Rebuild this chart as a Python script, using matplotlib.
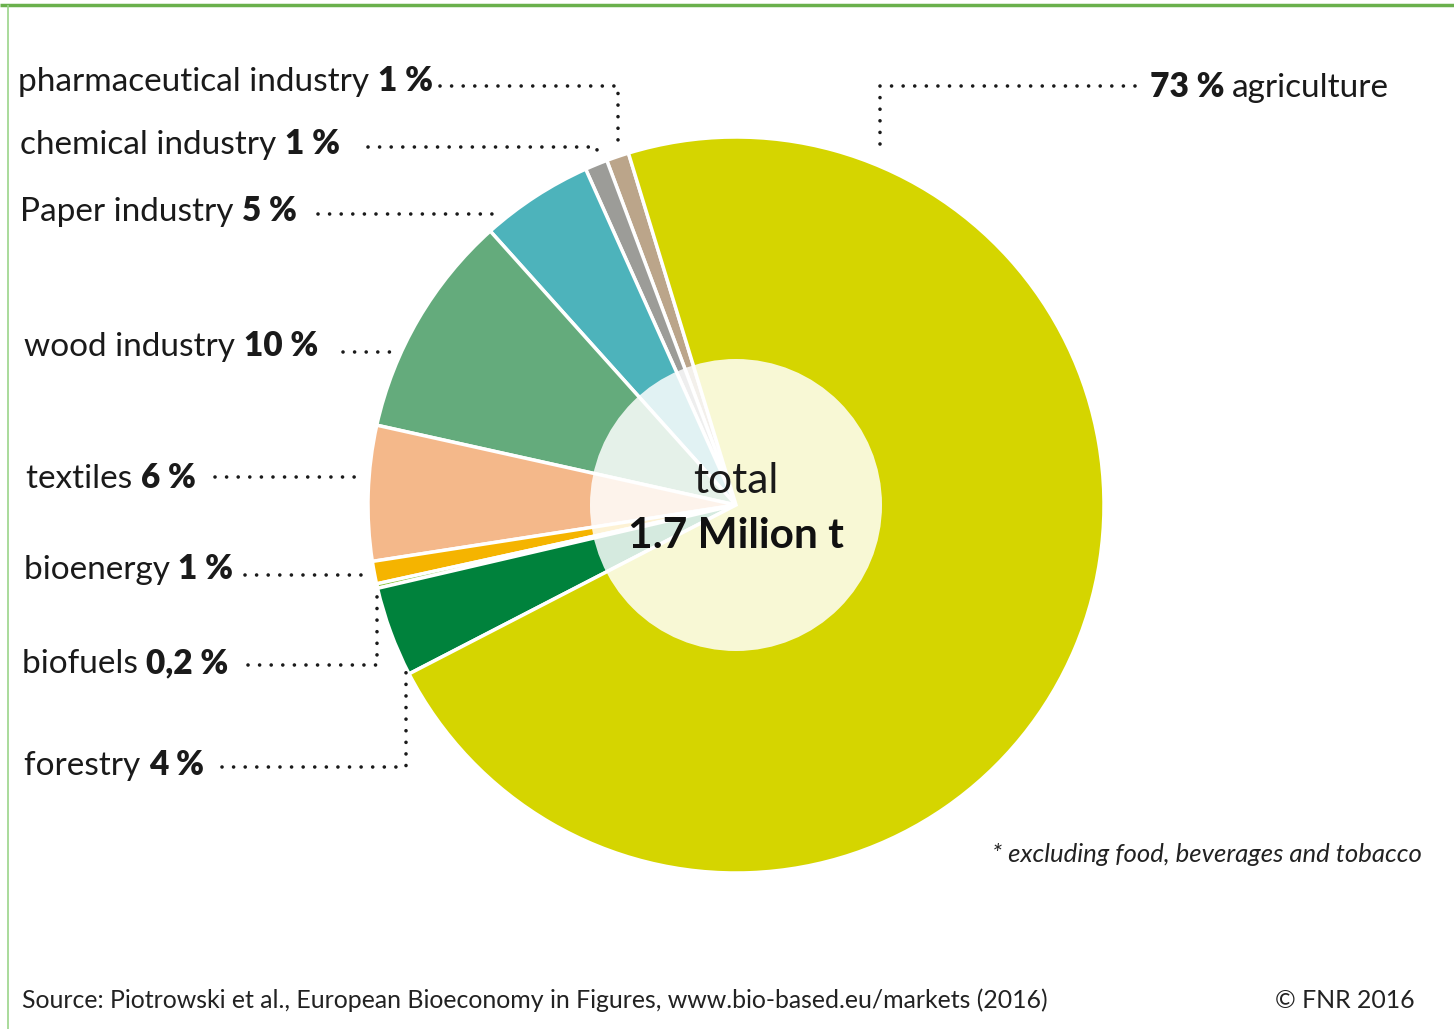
import matplotlib
matplotlib.use("Agg")
import matplotlib.pyplot as plt
from matplotlib.patches import Circle

plt.rcParams['font.family'] = ['Lato', 'DejaVu Sans']

# shares of biomass use (%), drawn counter-clockwise from the top
sectors = ['pharmaceutical industry', 'chemical industry', 'Paper industry',
           'wood industry', 'textiles', 'bioenergy', 'biofuels', 'forestry',
           'agriculture']
shares = [1, 1, 5, 10, 6, 1, 0.2, 4, 73]
share_labels = ['1 %', '1 %', '5 %', '10 %', '6 %', '1 %', '0,2 %', '4 %', '73 %']
colors = ['#bba58a', '#9c9c98', '#4db3bb', '#64ab7c', '#f4b88a',
          '#f5b400', '#8cc63e', '#00823c', '#d5d500']

W, H = 1454, 1029
fig = plt.figure(figsize=(W / 100, H / 100), dpi=100)
ax = fig.add_axes([0, 0, 1, 1])

cx, cy, r = 736, 505, 368
# y axis runs downward, so clockwise in data = counter-clockwise on screen
ax.pie(shares, colors=colors, startangle=-107, counterclock=False,
       radius=r, center=(cx, cy),
       wedgeprops=dict(edgecolor='white', linewidth=2.5))
ax.add_patch(Circle((cx, cy), 146, facecolor='white', alpha=0.84,
                    edgecolor='none', zorder=5))
ax.set_xlim(0, W)
ax.set_ylim(H, 0)
ax.set_aspect('equal')
ax.axis('off')

ax.text(cx, 481, 'total', fontsize=30.5, ha='center', va='center',
        color='#1a1a1a', zorder=6)
ax.text(cx, 536, '1.7 Milion t', fontsize=30.5, fontweight='bold',
        ha='center', va='center', color='#111111', zorder=6)

# left-hand labels: name regular, value bold
label_pos = [(18, 82), (20, 145), (20, 212), (24, 347), (26, 479),
             (24, 570), (22, 664), (24, 766)]
for (x, y), name, val in zip(label_pos, sectors[:8], share_labels[:8]):
    t = ax.text(x, y, name + ' ', fontsize=24, ha='left', va='center',
                color='#1a1a1a')
    ax.annotate(val, xy=(1, 0), xycoords=t, ha='left', va='bottom',
                fontsize=24, fontweight='heavy', color='#1a1a1a')

t = ax.text(1150, 87, share_labels[8] + ' ', fontsize=24, fontweight='heavy',
            ha='left', va='center', color='#1a1a1a')
ax.annotate(sectors[8], xy=(1, 0), xycoords=t, ha='left', va='bottom',
            fontsize=24, color='#1a1a1a')

# dotted leader lines
leaders = [
    ([440, 618, 618], [86, 86, 150]),
    ([368, 597, 597], [147, 147, 160]),
    ([318, 495], [214, 214]),
    ([343, 395], [352, 352]),
    ([215, 365], [477, 477]),
    ([245, 372], [575, 575]),
    ([248, 377, 377], [665, 665, 592]),
    ([222, 406, 406], [767, 767, 672]),
    ([1135, 880, 880], [86, 86, 155]),
]
for xs, ys in leaders:
    ax.plot(xs, ys, color='#1a1a1a', lw=2.6,
            linestyle=(0, (0.01, 3.2)), dash_capstyle='round',
            solid_capstyle='round')

ax.text(1422, 855, '* excluding food, beverages and tobacco', fontsize=18.5,
        style='italic', ha='right', va='center', color='#222222')
ax.text(22, 1000, 'Source: Piotrowski et al., European Bioeconomy in Figures, '
        'www.bio-based.eu/markets (2016)', fontsize=17.9, ha='left',
        va='center', color='#222222')
ax.text(1415, 1000, '\u00a9 FNR 2016', fontsize=17.9, ha='right',
        va='center', color='#222222')

# green frame on top and left
ax.plot([0, W], [5, 5], color='#6ab04c', lw=2.5, solid_capstyle='butt')
ax.plot([8, 8], [5, H], color='#9bd48a', lw=1.2, solid_capstyle='butt')

fig.savefig('out.png', dpi=100, facecolor='white')
